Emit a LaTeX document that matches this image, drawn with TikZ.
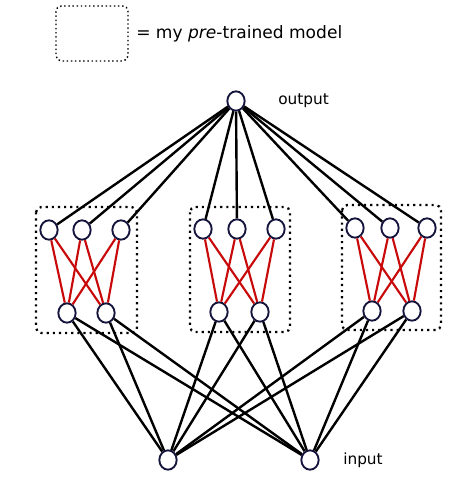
\documentclass[tikz,border=0pt]{standalone}
\usepackage{fontspec}
\setmainfont{DejaVu Sans}
\usetikzlibrary{shapes.geometric}
\definecolor{navy}{RGB}{20,20,60}
\definecolor{wred}{RGB}{200,10,10}
\begin{document}
\begin{tikzpicture}[x=0.75pt,y=-0.75pt]
\tikzstyle{unit}=[draw=navy, line width=1.4pt, ellipse, minimum width=13pt, minimum height=14.5pt, inner sep=0pt, fill=white]
\tikzstyle{model}=[draw, dash pattern=on 1.6pt off 3pt, line width=1.7pt, rounded corners=4pt]
\tikzstyle{wire}=[line width=1.8pt]
\tikzstyle{label}=[inner sep=0pt, anchor=west, font=\fontsize{11.5}{13}\selectfont]
\useasboundingbox (0,0) rectangle (474,490);
% legend
\draw [model, line width=1.1pt, dash pattern=on 1.1pt off 2pt] (56,6) rectangle (128,61);
\node [inner sep=0pt, anchor=west, font=\fontsize{12.8}{15}\selectfont] (legend) at (136,34) {= my \textit{pre}-trained model};
% pre-trained blocks
\draw [model] (36,207) rectangle (137,333);
\draw [model] (190,207) rectangle (290,332);
\draw [model] (342,205) rectangle (441,330);
% units
\node [unit] (out) at (236,101) {};
\node [label] (outlabel) at (278,101) {output};
\node [unit] (a1) at (49,230) {};
\node [unit] (a2) at (82,230) {};
\node [unit] (a3) at (121,230) {};
\node [unit] (a4) at (67,313) {};
\node [unit] (a5) at (106,313) {};
\node [unit] (b1) at (203,229) {};
\node [unit] (b2) at (237,229) {};
\node [unit] (b3) at (276,229) {};
\node [unit] (b4) at (219,312) {};
\node [unit] (b5) at (260,312) {};
\node [unit] (c1) at (355,228) {};
\node [unit] (c2) at (390,228) {};
\node [unit] (c3) at (427,228) {};
\node [unit] (c4) at (372,311) {};
\node [unit] (c5) at (412,311) {};
\node [unit] (in1) at (168,460) {};
\node [unit] (in2) at (310,460) {};
\node [label] (inlabel) at (343,460) {input};
% connections
\foreach \g in {a,b,c} {
  \foreach \t in {1,2,3} {
    \draw [wire] (out) -- (\g\t);
    \foreach \b in {4,5}
      \draw [wire, wred, line width=1.6pt] (\g\t) -- (\g\b);
  }
  \foreach \b in {4,5} {
    \draw [wire] (\g\b) -- (in1);
    \draw [wire] (\g\b) -- (in2);
  }
}
\end{tikzpicture}
\end{document}
